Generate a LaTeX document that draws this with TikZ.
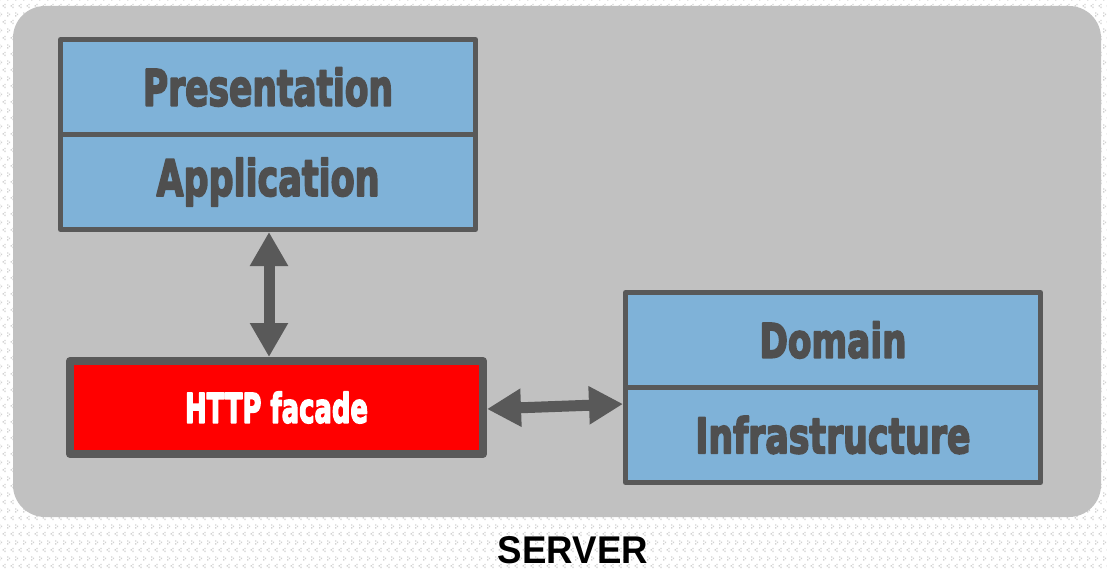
\documentclass[tikz,border=0pt]{standalone}
\usepackage{fontspec}
\usepackage{graphicx}
\setmainfont{Liberation Sans}
\newfontfamily\heavy{DejaVu Sans}[FakeBold=4]
\usetikzlibrary{arrows.meta,patterns.meta}

\definecolor{edgegray}{HTML}{595959}
\definecolor{labelgray}{HTML}{4F4F4F}
\definecolor{layerblue}{HTML}{7FB2D8}
\definecolor{servergray}{HTML}{C1C1C1}
\definecolor{dotgray}{HTML}{D2D2D2}

% squeeze a label into a given width and cap height
\newcommand{\fitlabel}[3]{\resizebox{#1pt}{#2pt}{#3}}

% light chevron dots on the page background
\tikzdeclarepattern{
  name=chevrondots, type=uncolored,
  bottom left={(0pt,0pt)}, top right={(8pt,16pt)},
  tile size={(8pt,16pt)},
  code={
    \fill (0pt,12pt) rectangle (1.5pt,13.5pt);
    \fill (2pt,10.5pt) rectangle (3.5pt,12pt);
    \fill (0pt,9pt) rectangle (1.5pt,10.5pt);
    \fill (6pt,4pt) rectangle (7.5pt,5.5pt);
    \fill (4pt,2.5pt) rectangle (5.5pt,4pt);
    \fill (6pt,1pt) rectangle (7.5pt,2.5pt);
  }
}

\tikzset{
  layer/.style={draw=edgegray, line width=5pt, fill=layerblue,
    minimum width=415pt, minimum height=95pt, inner sep=0pt,
    text=labelgray, line join=round, font=\heavy\bfseries},
  facade/.style={draw=edgegray, line width=8pt, fill=red,
    minimum width=413pt, minimum height=93pt, inner sep=0pt,
    text=white, line join=round, font=\heavy\bfseries},
  servertray/.style={fill=servergray, rounded corners=32pt,
    minimum width=1088pt, minimum height=511pt, inner sep=0pt},
  link/.style={draw=edgegray, line width=11pt,
    {Triangle[width=36pt,length=34pt]}-{Triangle[width=36pt,length=34pt]}},
}

\begin{document}
\begin{tikzpicture}[x=1pt,y=-1pt]
  \useasboundingbox (0,0) rectangle (1107,569);
  \fill[white] (0,0) rectangle (1107,569);
  \fill[pattern=chevrondots, pattern color=dotgray] (0,0) rectangle (1107,569);

  % server tray
  \node[servertray] (server) at (557,261.5) {};

  % layer stacks
  \node[layer] (pres) at (268,87) {\fitlabel{250}{38}{Presentation}};
  \node[layer] (app) at (268,182) {\fitlabel{223}{38}{Application}};
  \node[layer] (dom) at (833,340) {\fitlabel{147}{36}{Domain}};
  \node[layer] (infra) at (833,435) {\fitlabel{275}{37}{Infrastructure}};

  % facade
  \node[facade] (http) at (276.5,407.5) {\fitlabel{183}{31}{HTTP facade}};

  % connectors (tips meet the box outlines)
  \draw[link]
    ([xshift=1pt]app.south) -- ([xshift=1pt]app.south |- http.north);
  \draw[link]
    ([yshift=-1.5pt]http.east) -- ([yshift=31pt]infra.west);

  % caption
  \node[anchor=base, inner sep=0pt] (caption) at (573,563.5)
    {\fitlabel{150}{27}{\bfseries SERVER}};
\end{tikzpicture}
\end{document}
